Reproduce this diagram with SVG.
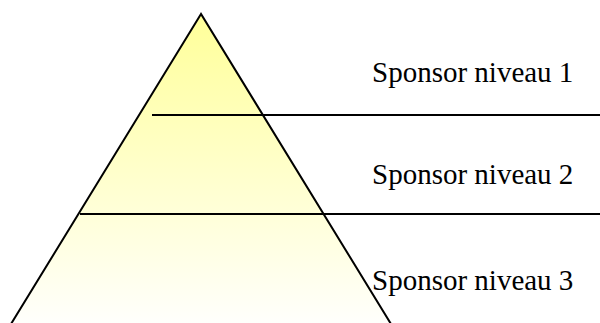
<svg xmlns="http://www.w3.org/2000/svg" width="600" height="323" viewBox="0 0 600 323">
<style>
.t{font-family:"Liberation Serif","Times New Roman",serif;font-size:29px;fill:#000}
.l{stroke:#000;stroke-width:2;fill:none}
</style>
<defs>
<linearGradient id="g" x1="0" y1="0" x2="0" y2="1">
<stop offset="0" stop-color="#FFFF99"/>
<stop offset="1" stop-color="#FFFFFC"/>
</linearGradient>
</defs>
<rect width="600" height="323" fill="#fff"/>
<g id="pyramid">
<polygon points="201,14 11,324 391,324" fill="url(#g)" stroke="#000" stroke-width="2"/>
</g>
<g id="connectors">
<line class="l" x1="152" y1="115" x2="600" y2="115"/>
<line class="l" x1="80" y1="214" x2="600" y2="214"/>
</g>
<g id="level1"><text class="t" x="372" y="82">Sponsor niveau 1</text></g>
<g id="level2"><text class="t" x="372" y="184">Sponsor niveau 2</text></g>
<g id="level3"><text class="t" x="372" y="290">Sponsor niveau 3</text></g>
</svg>
